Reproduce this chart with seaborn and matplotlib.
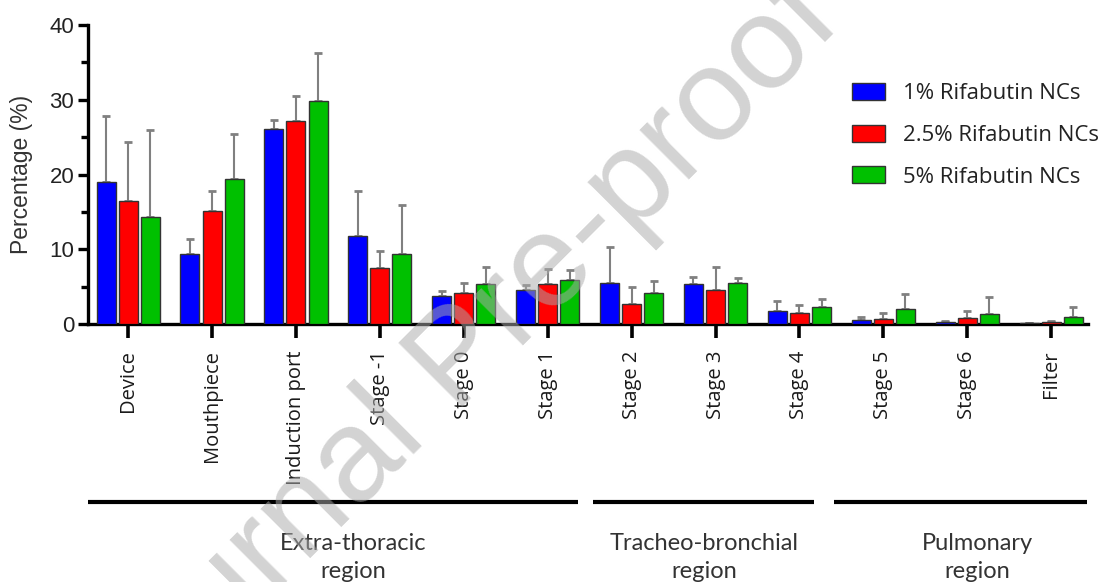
import numpy as np
import pandas as pd
import matplotlib
matplotlib.use("Agg")
import matplotlib.pyplot as plt
import seaborn as sns
from matplotlib.ticker import MultipleLocator

# ---------------- data ----------------

stages = ["Device", "Mouthpiece", "Induction port", "Stage -1", "Stage 0",
          "Stage 1", "Stage 2", "Stage 3", "Stage 4", "Stage 5", "Stage 6", "Filter"]

series = ["1% Rifabutin NCs", "2.5% Rifabutin NCs", "5% Rifabutin NCs"]

pct_1 = [19.0, 9.3, 26.1, 11.8, 3.7, 4.5, 5.5, 5.4, 1.7, 0.5, 0.3, 0.1]
pct_25 = [16.4, 15.1, 27.2, 7.5, 4.2, 5.3, 2.7, 4.5, 1.5, 0.7, 0.8, 0.3]
pct_5 = [14.3, 19.4, 29.9, 9.3, 5.4, 5.9, 4.1, 5.5, 2.3, 2.0, 1.3, 0.9]

err_1 = [8.8, 2.1, 1.2, 6.0, 0.7, 0.7, 4.8, 0.9, 1.4, 0.5, 0.1, 0.0]
err_25 = [7.9, 2.7, 3.3, 2.2, 1.3, 2.1, 2.2, 3.1, 1.1, 0.8, 1.0, 0.1]
err_5 = [11.7, 6.0, 6.4, 6.6, 2.2, 1.3, 1.6, 0.7, 1.0, 2.0, 2.3, 1.4]

regions = ["Extra-thoracic\nregion", "Tracheo-bronchial\nregion", "Pulmonary\nregion"]

colors = ["#0000FF", "#FF0000", "#00C000"]

df = pd.DataFrame({
    "stage": stages * 3,
    "value": pct_1 + pct_25 + pct_5,
    "formulation": [s for s in series for _ in stages],
})
errs = [err_1, err_25, err_5]

# ---------------- plot ----------------

sns.set_style("ticks")
plt.rcParams["font.family"] = ["Open Sans", "DejaVu Sans"]

fig = plt.figure(figsize=(10.99, 5.82), dpi=100)
ax = fig.add_axes([0.0801, 0.4433, 0.91, 0.5137])

sns.barplot(data=df, x="stage", y="value", hue="formulation",
            palette=colors, saturation=1, width=0.79, gap=0.14,
            edgecolor="#333333", linewidth=1.0,
            errorbar=None, ax=ax, zorder=3)

# one-sided error bars on top of each bar
for cont, err in zip(ax.containers, errs):
    xs = [b.get_x() + b.get_width() / 2 for b in cont]
    hs = [b.get_height() for b in cont]
    eb = ax.errorbar(xs, hs, yerr=[np.zeros(len(err)), err], fmt="none",
                     ecolor="#808080", elinewidth=1.5, capsize=3,
                     capthick=2, zorder=2)
    for cap in eb[1]:
        cap.set_color("#444444")

ax.set_xlim(-0.478, 11.44)
ax.set_ylim(0, 40)
ax.yaxis.set_major_locator(MultipleLocator(10))
ax.yaxis.set_minor_locator(MultipleLocator(5))

sns.despine(ax=ax)
for sp in ["left", "bottom"]:
    ax.spines[sp].set_linewidth(2.4)
    ax.spines[sp].set_color("black")

ax.tick_params(axis="y", which="major", length=7, width=2.4, color="black",
               labelsize=16, labelcolor="#222222", pad=3)
ax.tick_params(axis="y", which="minor", length=5, width=2.4, color="black")
ax.tick_params(axis="x", length=10, width=2.6, color="black",
               labelsize=14.5, labelcolor="#1a1a1a", pad=9)
for lab in ax.get_yticklabels():
    lab.set_fontfamily("Liberation Sans")
for lab in ax.get_xticklabels():
    lab.set_rotation(90)
    lab.set_va("top")

ax.set_xlabel("")
ax.set_ylabel("Percentage (%)", fontsize=16.5, family="Liberation Sans",
              color="#333333", labelpad=12)

# legend
handles, labels = ax.get_legend_handles_labels()
leg = ax.legend(handles, labels, loc="upper left", bbox_to_anchor=(0.764, 0.806),
                frameon=False, borderpad=0, borderaxespad=0,
                handlelength=1.5, handleheight=0.8,
                handletextpad=0.8, labelspacing=0.92,
                prop={"family": "Open Sans", "size": 16})
for t in leg.get_texts():
    t.set_color("#222222")

# region brackets below the stage labels
trans = ax.get_xaxis_transform()
spans = [(-0.478, 5.36), (5.54, 8.17), (8.41, 11.43)]
centers = [2.68, 6.86, 10.12]
for (x0, x1), xc, name in zip(spans, centers, regions):
    ax.plot([x0, x1], [-0.595, -0.595], color="black", lw=3.0,
            transform=trans, clip_on=False, solid_capstyle="butt")
    ax.text(xc, -0.781, name, transform=trans, ha="center", va="center",
            fontsize=17, family="Lato", color="#333333", linespacing=1.4)

# watermark
fig.text(0.418, 0.380, "Journal Pre-proof", rotation=45, ha="center", va="center",
         fontsize=95, family="Liberation Sans", color="#ababab", alpha=0.52,
         zorder=10)

fig.savefig("out.png", dpi=100)
